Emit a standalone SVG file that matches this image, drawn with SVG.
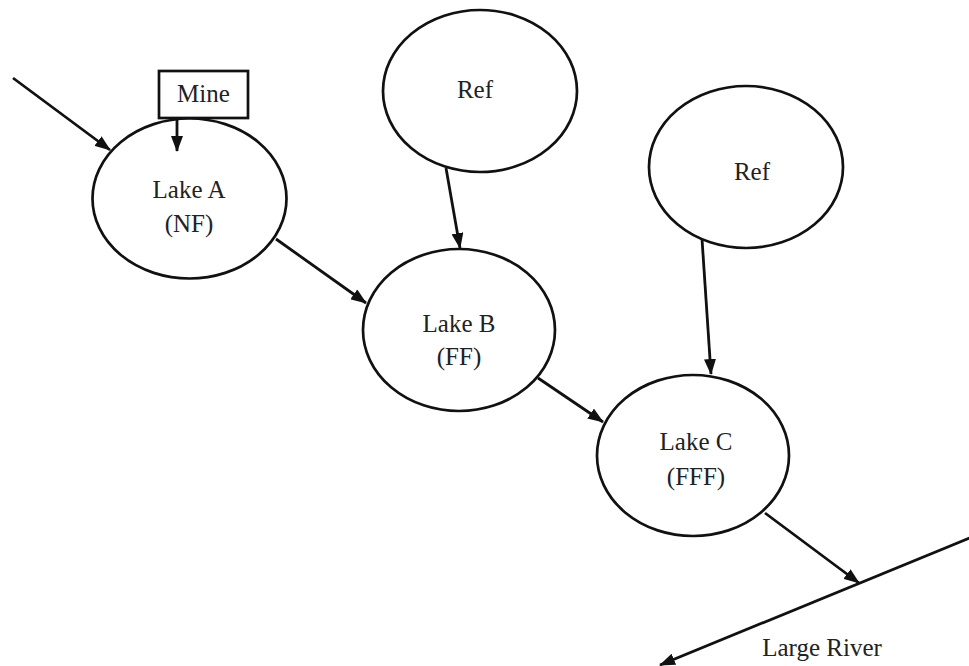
<svg xmlns="http://www.w3.org/2000/svg" width="969" height="666" viewBox="0 0 969 666">
<style>
.node{fill:#fff;stroke:#111;stroke-width:2.7}
.lbl{font-family:"Liberation Serif","Times New Roman",serif;font-size:25px;fill:#222;text-anchor:middle}
.edge{stroke:#111;stroke-width:2.8;fill:none;marker-end:url(#ah)}
</style>
<defs>
<marker id="ah" markerUnits="userSpaceOnUse" markerWidth="16" markerHeight="12" viewBox="0 0 16 12" refX="15" refY="6" orient="auto">
<path d="M0,0 L16,6 L0,12 z" fill="#111"/>
</marker>
</defs>
<rect width="969" height="666" fill="#fff"/>
<g id="mine">
<rect class="node" x="159" y="71" width="89" height="47"/>
<text class="lbl" x="203.5" y="102" font-family="Liberation Serif, serif">Mine</text>
</g>
<g id="lakeA">
<ellipse class="node" cx="189.5" cy="198.5" rx="97" ry="80"/>
<text class="lbl" x="189" y="198" font-family="Liberation Serif, serif">Lake A</text>
<text class="lbl" x="189" y="232" font-family="Liberation Serif, serif">(NF)</text>
</g>
<g id="ref1">
<ellipse class="node" cx="480" cy="91" rx="97" ry="81"/>
<text class="lbl" x="475" y="98" font-family="Liberation Serif, serif">Ref</text>
</g>
<g id="lakeB">
<ellipse class="node" cx="459" cy="330" rx="96" ry="81"/>
<text class="lbl" x="459" y="332" font-family="Liberation Serif, serif">Lake B</text>
<text class="lbl" x="459" y="365" font-family="Liberation Serif, serif">(FF)</text>
</g>
<g id="ref2">
<ellipse class="node" cx="746" cy="167" rx="97" ry="81"/>
<text class="lbl" x="752" y="180" font-family="Liberation Serif, serif">Ref</text>
</g>
<g id="lakeC">
<ellipse class="node" cx="693" cy="455.5" rx="96" ry="80.5"/>
<text class="lbl" x="696" y="450" font-family="Liberation Serif, serif">Lake C</text>
<text class="lbl" x="696" y="485" font-family="Liberation Serif, serif">(FFF)</text>
</g>
<g id="river">
<text class="lbl" x="822" y="656" font-family="Liberation Serif, serif">Large River</text>
</g>
<g id="connectors">
<line class="edge" x1="13" y1="78" x2="110" y2="150"/>
<line class="edge" x1="177" y1="119" x2="177" y2="151"/>
<line class="edge" x1="276" y1="239" x2="366" y2="303"/>
<line class="edge" x1="446" y1="168" x2="460" y2="248"/>
<line class="edge" x1="538" y1="378" x2="603" y2="422"/>
<line class="edge" x1="702" y1="239" x2="711" y2="374"/>
<line class="edge" x1="765" y1="513" x2="859" y2="583"/>
<line class="edge" x1="972" y1="537" x2="660" y2="665"/>
</g>
</svg>
